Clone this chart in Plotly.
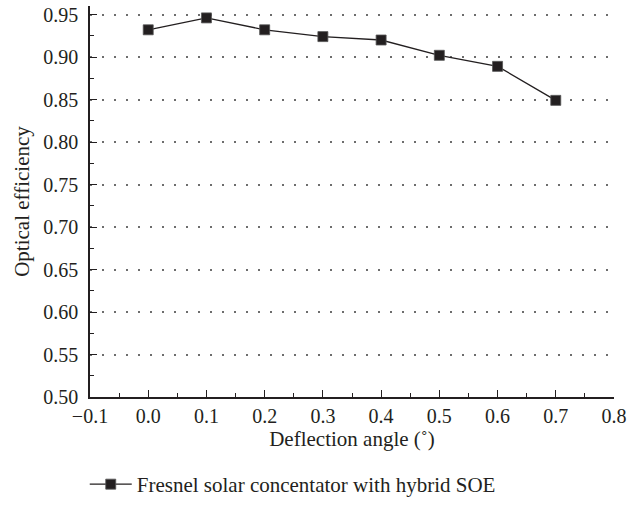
import plotly.graph_objects as go

# Optical efficiency versus deflection angle
deflection_angle = [0.0, 0.1, 0.2, 0.3, 0.4, 0.5, 0.6, 0.7]
optical_efficiency = [0.932, 0.946, 0.932, 0.924, 0.920, 0.902, 0.889, 0.849]
series_name = "Fresnel solar concentator with hybrid SOE"

x_ticks = [-0.1, 0.0, 0.1, 0.2, 0.3, 0.4, 0.5, 0.6, 0.7, 0.8]
y_ticks = [0.50, 0.55, 0.60, 0.65, 0.70, 0.75, 0.80, 0.85, 0.90, 0.95]

FONT = "Liberation Serif"
INK = "#231f20"

fig = go.Figure()
fig.add_trace(go.Scatter(
    x=deflection_angle,
    y=optical_efficiency,
    mode="lines+markers",
    name=series_name,
    line=dict(color=INK, width=1.3),
    marker=dict(symbol="square", size=10, color=INK,
                line=dict(color="#555555", width=0.8)),
))

axis_common = dict(
    showline=True, linecolor=INK, linewidth=1.5,
    ticks="inside", ticklen=7, tickwidth=1.3, tickcolor=INK,
    tickfont=dict(family=FONT, size=20, color=INK),
    zeroline=False, mirror=False, automargin=False,
)

fig.update_xaxes(
    range=[-0.1, 0.8], tickvals=x_ticks,
    ticktext=[f"{v:.1f}".replace("-", "\u2212") for v in x_ticks],
    showgrid=False, ticklabelstandoff=0,
    minor=dict(ticks="inside", ticklen=4, tickwidth=1.2, tickcolor=INK, dtick=0.05, tick0=-0.1),
    title=dict(text="Deflection angle (\u02da)", font=dict(family=FONT, size=21, color=INK), standoff=5),
    **axis_common,
)
fig.update_yaxes(
    range=[0.5, 0.96], tickvals=y_ticks,
    ticktext=[f"{v:.2f}" for v in y_ticks],
    showgrid=True, gridcolor="#6d6d6d", gridwidth=1.5, griddash="1.5px,10.5px",
    ticklabelstandoff=6,
    minor=dict(ticks="inside", ticklen=4, tickwidth=1.2, tickcolor=INK, dtick=0.025, tick0=0.5),
    title=dict(text="Optical efficiency", font=dict(family=FONT, size=21, color=INK), standoff=8),
    **axis_common,
)

fig.update_layout(
    width=642, height=505,
    margin=dict(l=90, r=28, t=6, b=108),
    plot_bgcolor="white", paper_bgcolor="white",
    showlegend=True,
    legend=dict(
        x=0.132, xref="container", xanchor="left",
        y=0.0, yref="container", yanchor="bottom",
        orientation="h", itemwidth=42,
        font=dict(family=FONT, size=21, color=INK),
        bgcolor="rgba(0,0,0,0)",
    ),
)

fig.write_html("out.html")
